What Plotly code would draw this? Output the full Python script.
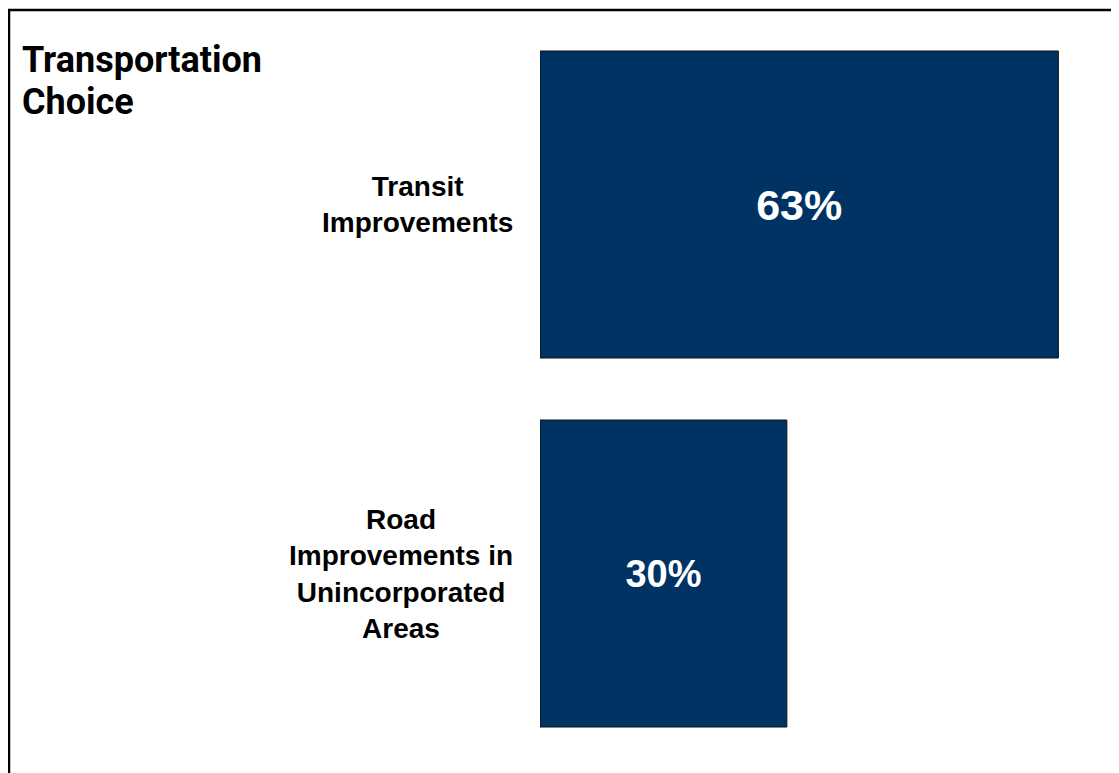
import plotly.graph_objects as go

# ---- data ----
categories = ["Transit<br>Improvements", "Road<br>Improvements in<br>Unincorporated<br>Areas"]
values = [63, 30]
title_lines = ["Transportation", "Choice"]

W, H = 1119, 773
ML, MR, MT, MB = 532, 11, 12, 23
PW = W - ML - MR
PH = H - MT - MB

def px_x(p):
    return (p - ML) / PW

def px_y(p):
    return (H - MB - p) / PH

bar_color = "#003264"
font_family = "Liberation Sans, Arial, sans-serif"

fig = go.Figure()
fig.add_trace(go.Bar(
    x=values,
    y=categories,
    orientation="h",
    marker=dict(color=bar_color, line=dict(color="#111111", width=1)),
    texttemplate="%{x}%",
    textposition="inside",
    insidetextanchor="middle",
    textfont=dict(family=font_family, color="white", size=[43, 38], weight="bold"),
    hoverinfo="skip",
))

annotations = []
for cat in categories:
    annotations.append(dict(
        x=px_x(507), xref="paper", y=cat, yref="y",
        xanchor="right", yanchor="middle", align="center",
        text="<b>" + cat + "</b>", showarrow=False,
        font=dict(family=font_family, size=28, color="black"),
    ))
for i, line in enumerate(title_lines):
    annotations.append(dict(
        x=px_x(12), xref="paper", y=px_y(29 + 42 * i), yref="paper",
        xanchor="left", yanchor="top", align="left",
        text="<b>" + line + "</b>", showarrow=False,
        font=dict(family="Roboto, Liberation Sans, Arial, sans-serif", size=36, color="black"),
    ))

shapes = [
    dict(type="line", xref="paper", yref="paper",
         x0=px_x(0), x1=px_x(W + 20), y0=px_y(2), y1=px_y(2),
         line=dict(color="black", width=2.5)),
    dict(type="line", xref="paper", yref="paper",
         x0=px_x(1), x1=px_x(1), y0=px_y(1), y1=px_y(H + 20),
         line=dict(color="black", width=2.5)),
]

fig.update_layout(
    width=W, height=H,
    margin=dict(l=ML, r=MR, t=MT, b=MB),
    paper_bgcolor="white", plot_bgcolor="white",
    showlegend=False,
    bargap=0.168,
    xaxis=dict(range=[0, 70], visible=False, fixedrange=True),
    yaxis=dict(type="category", categoryorder="array", categoryarray=categories,
               range=[1.5, -0.5], visible=False, fixedrange=True),
    annotations=annotations,
    shapes=shapes,
)

fig.write_html("out.html")
